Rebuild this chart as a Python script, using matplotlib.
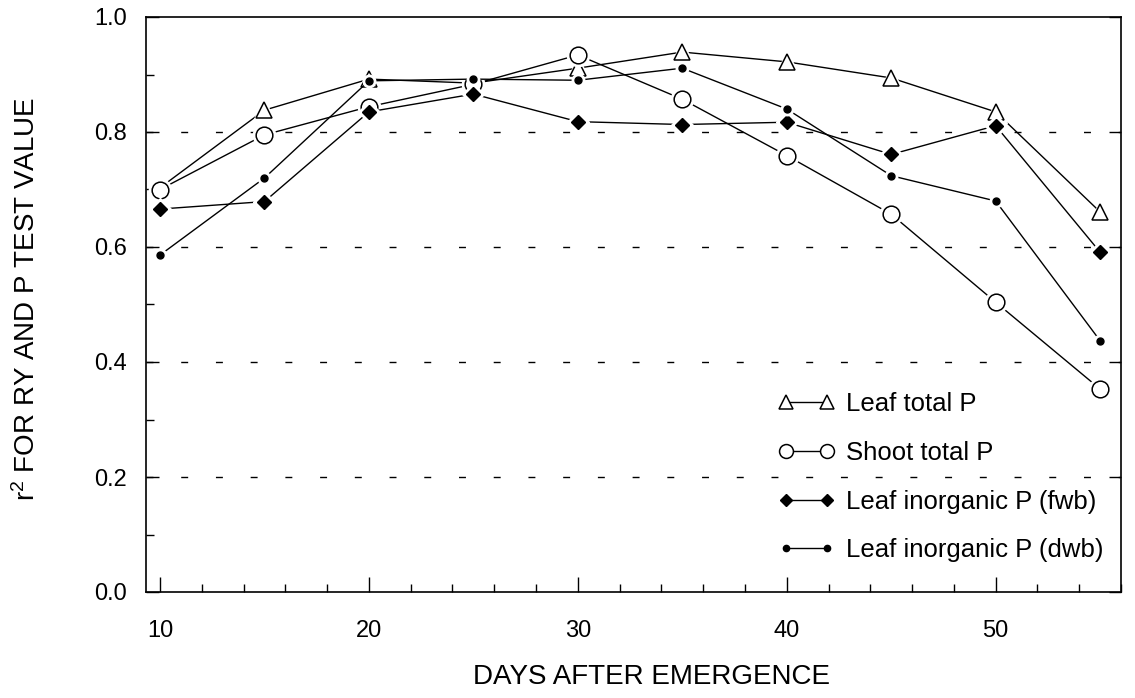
import numpy as np
import matplotlib
matplotlib.use('Agg')
import matplotlib.pyplot as plt
from matplotlib.ticker import MultipleLocator

plt.rcParams['font.family'] = ['Liberation Sans', 'DejaVu Sans']
plt.rcParams['mathtext.fontset'] = 'custom'
plt.rcParams['mathtext.rm'] = 'Liberation Sans'
plt.rcParams['mathtext.it'] = 'Liberation Sans'

days = [10, 15, 20, 25, 30, 35, 40, 45, 50, 55]

leaf_total = [0.703, 0.838, 0.892, 0.885, 0.911, 0.939, 0.922, 0.894, 0.835, 0.661]
shoot_total = [0.700, 0.795, 0.844, 0.883, 0.934, 0.857, 0.759, 0.657, 0.504, 0.353]
leaf_inorg_fwb = [0.666, 0.679, 0.835, 0.866, 0.818, 0.813, 0.817, 0.761, 0.811, 0.591]
leaf_inorg_dwb = [0.586, 0.720, 0.889, 0.892, 0.890, 0.911, 0.840, 0.724, 0.680, 0.437]

labels = ['Leaf total P', 'Shoot total P',
          'Leaf inorganic P (fwb)', 'Leaf inorganic P (dwb)']

fig = plt.figure(figsize=(11.35, 6.98), dpi=100)
ax = fig.add_axes([146 / 1135, 106 / 698, 975 / 1135, 575 / 698])

styles = [
    dict(marker='^', ms=12, mfc='white', mec='black', mew=1.1),
    dict(marker='o', ms=12, mfc='white', mec='black', mew=1.1),
    dict(marker='D', ms=7, mfc='black', mec='black', mew=1.0),
    dict(marker='o', ms=5, mfc='black', mec='black', mew=1.0),
]
series = [leaf_total, shoot_total, leaf_inorg_fwb, leaf_inorg_dwb]

for k, (vals, st) in enumerate(zip(series, styles)):
    z = 3 + k * 3
    ax.plot(days, vals, color='black', lw=1.0, zorder=z)
    # small white halo so the line stops short of each marker
    ax.plot(days, vals, ls='none', marker=st['marker'], ms=st['ms'] + 4,
            mfc='white', mec='white', zorder=z + 1)
    ax.plot(days, vals, color='black', lw=1.0, ls='none', zorder=z + 2, **st)

leg_sizes = [10, 10, 6.5, 4.5]
leg_handles = []
for st, s in zip(styles, leg_sizes):
    st2 = dict(st)
    st2['ms'] = s
    leg_handles.append(plt.Line2D([], [], color='black', lw=1.0, **st2))

ax.legend(leg_handles, labels, loc='upper left', bbox_to_anchor=(0.648, 0.347),
          frameon=False, fontsize=18.5, numpoints=2, handlelength=2.2,
          handletextpad=0.45, labelspacing=0.96, borderaxespad=0, borderpad=0)

for yv in [0.2, 0.4, 0.6, 0.8]:
    ax.axhline(yv, color='black', lw=1.0, dashes=(5, 20), zorder=1)

ax.set_xlim(9.33, 56)
ax.set_ylim(0, 1.0)
ax.xaxis.set_major_locator(MultipleLocator(10))
ax.xaxis.set_minor_locator(MultipleLocator(2))
ax.yaxis.set_major_locator(MultipleLocator(0.2))
ax.yaxis.set_minor_locator(MultipleLocator(0.1))
ax.yaxis.set_major_formatter(plt.FormatStrFormatter('%.1f'))

ax.tick_params(axis='both', which='both', direction='in', width=1.0)
ax.tick_params(axis='x', which='major', length=11, labelsize=17, pad=20)
ax.tick_params(axis='x', which='minor', length=6)
ax.tick_params(axis='y', which='major', length=9, labelsize=17, pad=14, right=True)
ax.tick_params(axis='y', which='minor', length=6)
for s in ax.spines.values():
    s.set_linewidth(1.2)

ax.set_xlabel('DAYS AFTER EMERGENCE', fontsize=20)
ax.xaxis.set_label_coords(0.518, -0.125)
ax.set_ylabel('r$^{2}$ FOR RY AND P TEST VALUE', fontsize=20)
ax.yaxis.set_label_coords(-0.108, 0.51)

fig.savefig('out.png', dpi=100)
